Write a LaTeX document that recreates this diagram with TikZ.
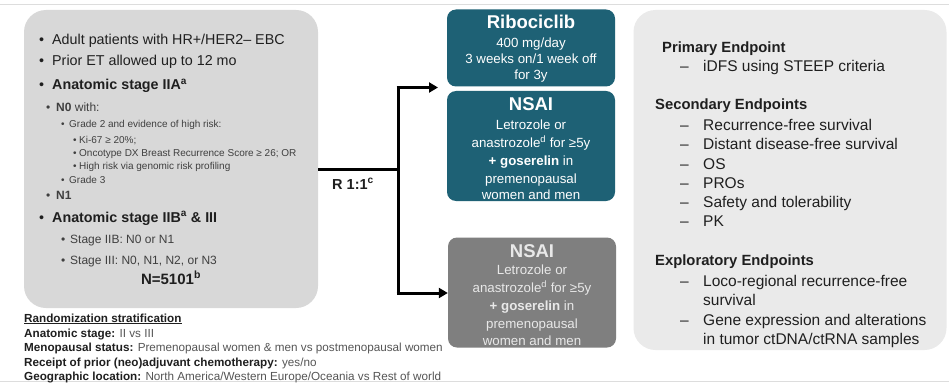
\documentclass[tikz,border=0pt]{standalone}
\usepackage{fontspec}
\setmainfont{Liberation Sans}
\usetikzlibrary{arrows.meta}
\definecolor{leftfill}{HTML}{D8D8D8}
\definecolor{rightfill}{HTML}{EAEAEA}
\definecolor{tealbox}{HTML}{1E6175}
\definecolor{graybox}{HTML}{7F7F7F}
\definecolor{grayboxtext}{HTML}{E8E8E8}
\definecolor{maintext}{HTML}{1F1F1F}
\definecolor{subtext}{HTML}{3F3F3F}
\definecolor{striptext}{HTML}{555555}
\definecolor{rulegray}{HTML}{DDDDDD}
\tikzset{
  txt/.style={anchor=base west, inner sep=0pt, text=maintext},
  bigtxt/.style={txt, font=\fontsize{14.3}{16}\selectfont},
  midtxt/.style={txt, text=subtext, font=\fontsize{12}{14}\selectfont},
  smalltxt/.style={txt, text=subtext, font=\fontsize{10}{12}\selectfont},
  striptxt/.style={txt, text=striptext, font=\fontsize{11.7}{13}\selectfont},
  endtxt/.style={txt, text=maintext, font=\fontsize{15.5}{17}\selectfont},
  endhead/.style={txt, text=maintext, font=\fontsize{14.8}{17}\selectfont\bfseries},
  armbox/.style={rounded corners=9pt, inner sep=0pt, minimum width=168pt},
  armtxt/.style={inner sep=0pt, align=center, font=\fontsize{13.3}{18}\selectfont},
  panel/.style={rounded corners=22pt, inner sep=0pt},
  flow/.style={line width=3pt, draw=black},
  tip/.style={-{Triangle[length=9pt,width=10pt]}}
}
\newcommand{\armhead}[1]{{\fontsize{18.5}{20}\selectfont\bfseries #1}}
\begin{document}
\begin{tikzpicture}[x=1pt,y=-1pt]
\useasboundingbox (0,0) rectangle (949,385);
\fill[white] (0,0) rectangle (949,385);
\draw[rulegray, line width=0.8pt] (0,4) -- (949,4);
\draw[rulegray, line width=0.8pt] (0,381.5) -- (949,381.5);

% panels
\node[panel, fill=leftfill, minimum width=294pt, minimum height=298pt] (left) at (171,159) {};
\node[panel, fill=rightfill, minimum width=313pt, minimum height=340pt] (right) at (790,180) {};

% left panel text
\node[bigtxt] (b1d) at (39,45) {•};
\node[bigtxt] (b1) at (52,45) {Adult patients with HR+/HER2– EBC};
\node[bigtxt] (b2d) at (39,66) {•};
\node[bigtxt] (b2) at (52,66) {Prior ET allowed up to 12 mo};
\node[bigtxt] (b3d) at (39,90) {•};
\node[bigtxt] (b3) at (52,90) {\textbf{Anatomic stage IIA\textsuperscript{a}}};
\node[midtxt] (c1d) at (46,111) {•};
\node[midtxt] (c1) at (56,111) {\textbf{N0} with:};
\node[smalltxt] (d1d) at (61,128) {•};
\node[smalltxt] (d1) at (69,128) {Grade 2 and evidence of high risk:};
\node[smalltxt] (e1d) at (73,143) {•};
\node[smalltxt] (e1) at (79,143) {Ki-67 ≥ 20\%;};
\node[smalltxt] (e2d) at (73,156) {•};
\node[smalltxt] (e2) at (79,156) {Oncotype DX Breast Recurrence Score ≥ 26; OR};
\node[smalltxt] (e3d) at (73,169) {•};
\node[smalltxt] (e3) at (79,169) {High risk via genomic risk profiling};
\node[smalltxt] (d2d) at (61,183) {•};
\node[smalltxt] (d2) at (69,183) {Grade 3};
\node[midtxt] (c2d) at (46,199) {•};
\node[midtxt] (c2) at (56,199) {\textbf{N1}};
\node[bigtxt] (b4d) at (39,222) {•};
\node[bigtxt] (b4) at (52,222) {\textbf{Anatomic stage IIB\textsuperscript{a} \& III}};
\node[midtxt] (f1d) at (61,243) {•};
\node[midtxt] (f1) at (70,243) {Stage IIB: N0 or N1};
\node[midtxt] (f2d) at (61,264) {•};
\node[midtxt] (f2) at (70,264) {Stage III: N0, N1, N2, or N3};
\node[bigtxt, font=\fontsize{15}{17}\selectfont, anchor=base] (ntot) at (171,284) {\textbf{N=5101\textsuperscript{b}}};

% stratification
\node[striptxt, text=maintext] (s0) at (24,322) {\textbf{\underline{Randomization stratification}}};
\node[striptxt] (s1) at (24,337) {\textcolor{maintext}{\textbf{Anatomic stage:}} II vs III};
\node[striptxt] (s2) at (24,351.5) {\textcolor{maintext}{\textbf{Menopausal status:}} Premenopausal women \& men vs postmenopausal women};
\node[striptxt] (s3) at (24,366) {\textcolor{maintext}{\textbf{Receipt of prior (neo)adjuvant chemotherapy:}} yes/no};
\node[striptxt] (s4) at (24,380.5) {\textcolor{maintext}{\textbf{Geographic location:}} North America/Western Europe/Oceania vs Rest of world};

% arm boxes
\node[armbox, fill=tealbox, minimum height=77pt] (ribo) at (531,48) {};
\node[armtxt, text=white, font=\fontsize{13.3}{16}\selectfont] (ribotxt) at ([yshift=-1pt]ribo.center)
  {\armhead{Ribociclib}\\[3pt] 400 mg/day\\ 3 weeks on/1 week off\\ for 3y};
\node[armbox, fill=tealbox, minimum height=110pt] (nsaia) at (531,146) {};
\node[armtxt, text=white] (nsaiatxt) at ([yshift=-2.5pt]nsaia.center)
  {\armhead{NSAI}\\[1pt] Letrozole or\\ anastrozole\textsuperscript{d} for ≥5y\\ \textbf{+ goserelin} in\\ premenopausal\\[-2pt] women and men};
\node[armbox, fill=graybox, minimum height=110pt] (nsaib) at (532,292.5) {};
\node[armtxt, text=grayboxtext] (nsaibtxt) at ([yshift=-3pt]nsaib.center)
  {\armhead{NSAI}\\[-1pt] Letrozole or\\ anastrozole\textsuperscript{d} for ≥5y\\ \textbf{+ goserelin} in\\ premenopausal\\[-1pt] women and men};

% randomization arrows
\coordinate (split) at (398,169.5);
\coordinate (topturn) at (398,87.5);
\coordinate (botturn) at (398,293);
\coordinate (toptip) at (438,87.5);
\draw[flow] (left.east |- split) -- (split);
\draw[flow] (topturn) -- (botturn);
\draw[flow, tip] ([xshift=-1.5pt]topturn) -- (toptip);
\draw[flow, tip] ([xshift=-1.5pt]botturn) -- (botturn -| nsaib.west);
\node[txt, font=\fontsize{14.5}{16}\selectfont\bfseries, anchor=base west] (rlab) at (332,189) {R 1:1\textsuperscript{c}};

% endpoints
\node[endhead] (p0) at (662,53) {Primary Endpoint};
\node[endtxt] (p1d) at (680,72) {–};
\node[endtxt] (p1) at (703,72) {iDFS using STEEP criteria};
\node[endhead] (q0) at (655,110) {Secondary Endpoints};
\node[endtxt] (q1d) at (680,130) {–};
\node[endtxt] (q1) at (703,130) {Recurrence-free survival};
\node[endtxt] (q2d) at (680,149) {–};
\node[endtxt] (q2) at (703,149) {Distant disease-free survival};
\node[endtxt] (q3d) at (680,169) {–};
\node[endtxt] (q3) at (703,169) {OS};
\node[endtxt] (q4d) at (680,188) {–};
\node[endtxt] (q4) at (703,188) {PROs};
\node[endtxt] (q5d) at (680,207) {–};
\node[endtxt] (q5) at (703,207) {Safety and tolerability};
\node[endtxt] (q6d) at (680,226) {–};
\node[endtxt] (q6) at (703,226) {PK};
\node[endhead] (x0) at (655,265) {Exploratory Endpoints};
\node[endtxt] (x1d) at (680,286) {–};
\node[endtxt] (x1) at (703,286) {Loco-regional recurrence-free};
\node[endtxt] (x1b) at (703,305) {survival};
\node[endtxt] (x2d) at (680,325) {–};
\node[endtxt] (x2) at (703,325) {Gene expression and alterations};
\node[endtxt] (x2b) at (703,344) {in tumor ctDNA/ctRNA samples};
\end{tikzpicture}
\end{document}
